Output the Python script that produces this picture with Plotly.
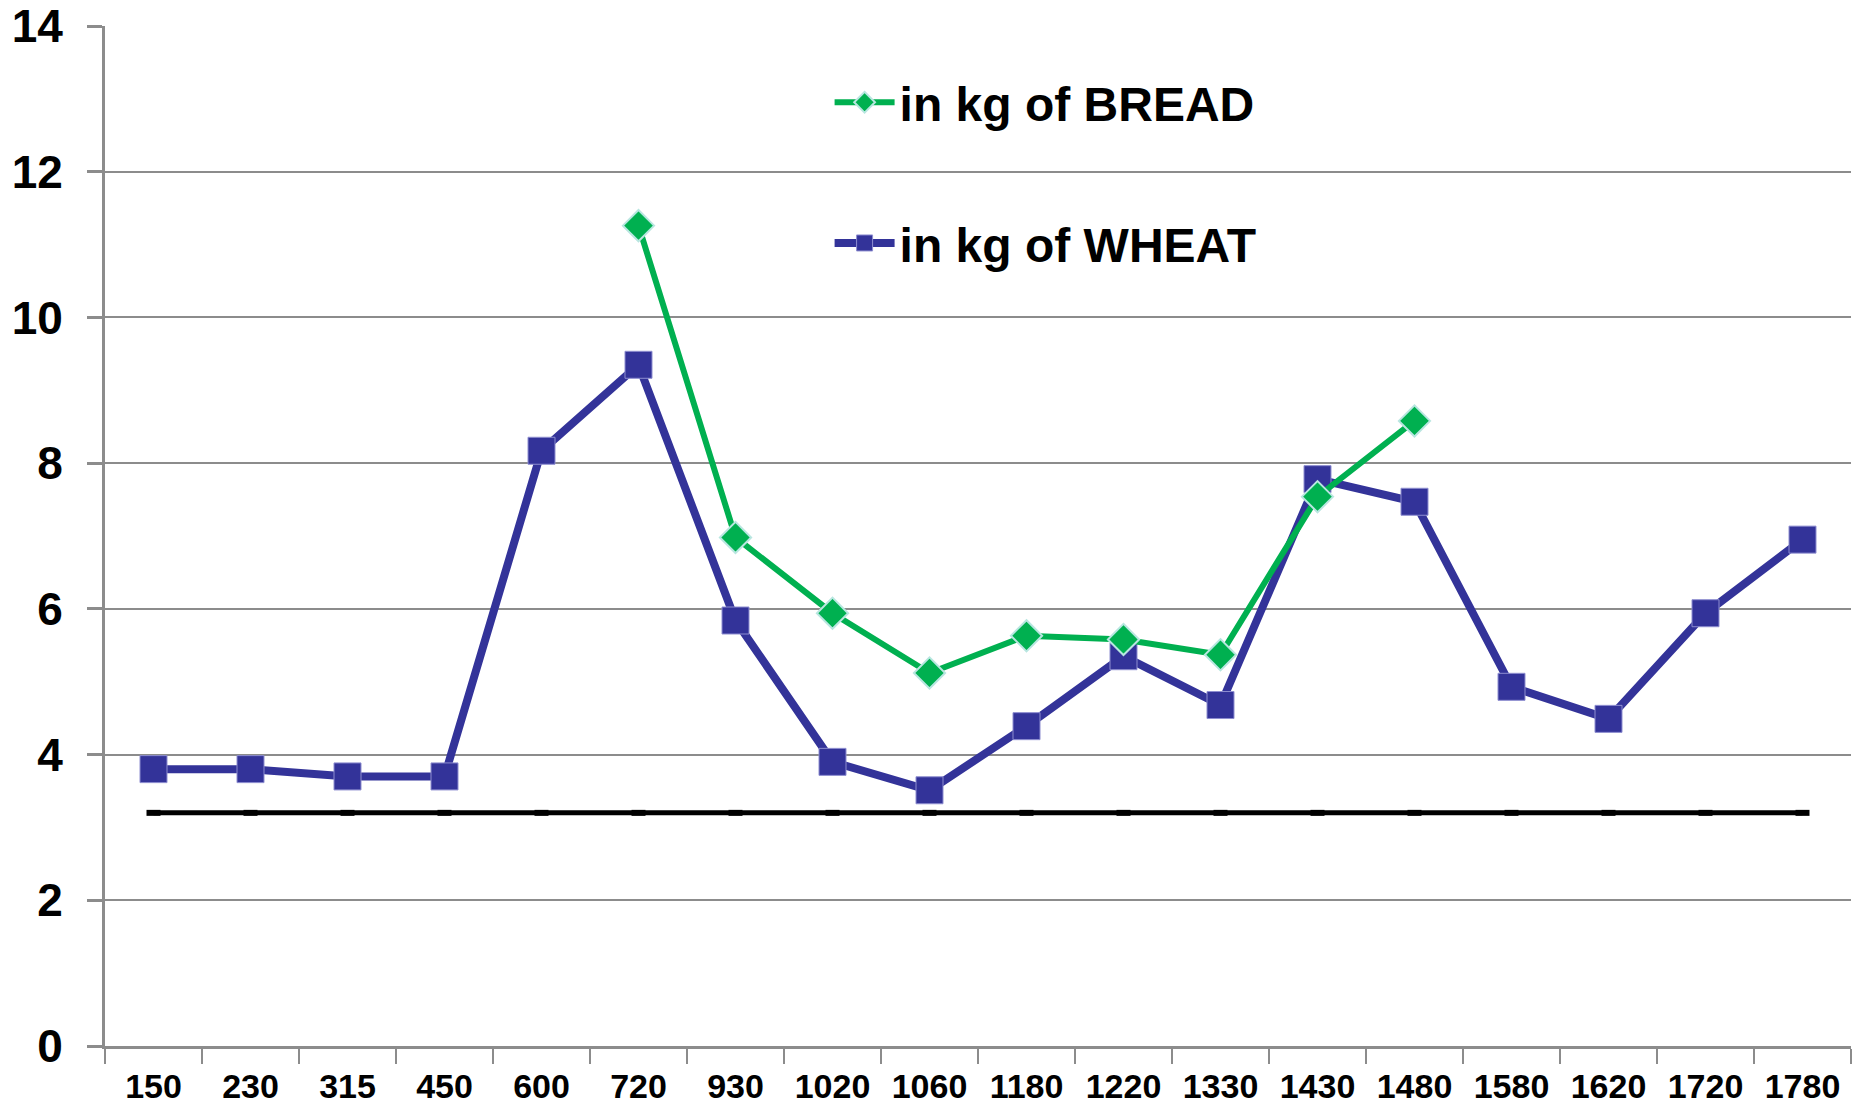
import plotly.graph_objects as go

# categories (years) and values
years = ["150", "230", "315", "450", "600", "720", "930", "1020", "1060",
         "1180", "1220", "1330", "1430", "1480", "1580", "1620", "1720", "1780"]

wheat = [3.8, 3.8, 3.7, 3.7, 8.17, 9.35, 5.84, 3.9, 3.51,
         4.39, 5.35, 4.68, 7.78, 7.47, 4.93, 4.49, 5.94, 6.95]

bread = [None, None, None, None, None, 11.26, 6.98, 5.94, 5.12,
         5.63, 5.58, 5.37, 7.54, 8.58, None, None, None, None]

baseline = [3.2, 3.2, 3.2, 3.2, 3.2, 3.2, 3.2, 3.2, 3.2,
            3.2, 3.2, 3.2, 3.2, 3.2, 3.2, 3.2, 3.2, 3.2]

y_ticks = [0, 2, 4, 6, 8, 10, 12, 14]

FONT = "Liberation Sans, Arial, sans-serif"
GREEN = "#00b050"
BLUE = "#333399"
GRID = "#8c8c8c"

fig = go.Figure()

# --- flat black reference line ---
fig.add_trace(go.Scatter(
    x=years, y=baseline, mode="lines+markers",
    line=dict(color="black", width=5),
    marker=dict(symbol="line-ew", size=10, line=dict(width=6, color="black")),
    showlegend=False, hoverinfo="skip",
))

# --- wheat ---
fig.add_trace(go.Scatter(
    x=years, y=wheat, mode="lines+markers",
    name="in kg of WHEAT",
    line=dict(color=BLUE, width=8),
    marker=dict(symbol="square", size=27, color=BLUE,
                line=dict(color="#8e8ed0", width=1)),
    legend="legend2",
))

# --- bread ---
fig.add_trace(go.Scatter(
    x=years, y=bread, mode="lines+markers",
    name="in kg of BREAD",
    line=dict(color=GREEN, width=6),
    marker=dict(symbol="diamond", size=24, color=GREEN,
                line=dict(color="#b8e6e0", width=2)),
    legend="legend",
))

legend_style = dict(
    xanchor="left", yanchor="middle",
    font=dict(family=FONT, size=48, color="black", weight="bold"),
    bgcolor="rgba(0,0,0,0)", itemwidth=60,
)

fig.update_layout(
    width=1864, height=1109,
    plot_bgcolor="white", paper_bgcolor="white",
    margin=dict(l=105, r=13, t=26, b=63),
    font=dict(family=FONT, color="black"),
    legend=dict(x=0.415, y=0.925, **legend_style),
    legend2=dict(x=0.415, y=0.787, **legend_style),
    xaxis=dict(
        type="category", range=[-0.5, 17.5], automargin=False,
        tickson="boundaries", ticks="outside", ticklen=15,
        tickwidth=2, tickcolor=GRID,
        showline=True, linecolor=GRID, linewidth=3,
        showgrid=False,
        tickfont=dict(family=FONT, size=34, color="black", weight="bold"),
        ticklabelstandoff=8,
    ),
    yaxis=dict(
        range=[0, 14], tickvals=y_ticks, automargin=False,
        ticks="outside", ticklen=15, tickwidth=3, tickcolor=GRID,
        showline=True, linecolor=GRID, linewidth=3,
        showgrid=True, gridcolor=GRID, gridwidth=2,
        zeroline=False,
        tickfont=dict(family=FONT, size=46, color="black", weight="bold"),
        ticklabelstandoff=15,
    ),
)

# drop the default 8px body margin so the figure sits flush in the window
fig.write_html("out.html", config={"displayModeBar": False},
               post_script="document.body.style.margin = '0';")
